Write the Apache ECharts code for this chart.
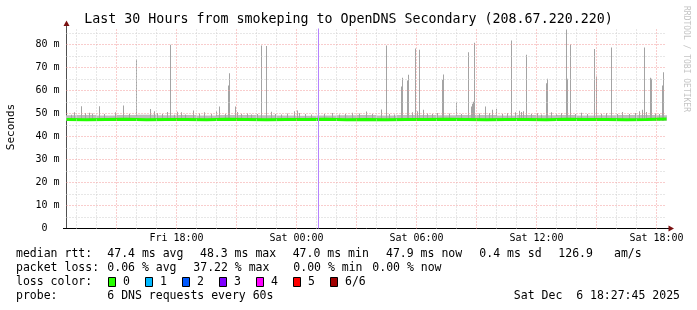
<!DOCTYPE html>
<html><head><meta charset="utf-8">
<script src="https://cdn.jsdelivr.net/npm/echarts@6/dist/echarts.min.js"></script>
<style>html,body{margin:0;padding:0;background:#fff}#c{width:697px;height:310px}</style>
</head><body><div id="c"></div>
<script>
// ---------------- data ----------------
const titleText = 'Last 30 Hours from smokeping to OpenDNS Secondary (208.67.220.220)';
const yAxisName = 'Seconds';
const watermark = 'RRDTOOL / TOBI OETIKER';
// x in hours since Fri 12:00
const xRange = [0.5, 30.5];
const yRange = [0, 86.96];
const xTickHours = [6, 12, 18, 24, 30];
const xTickLabels = ['Fri 18:00', 'Sat 00:00', 'Sat 06:00', 'Sat 12:00', 'Sat 18:00'];
const minorHoursX = [1,2,4,5,7,8,10,11,13,14,16,17,19,20,22,23,25,26,28,29];
const majorHoursX = [3,6,9,12,15,18,21,24,27,30];
const minorMsY = [5,15,25,35,45,55,65,75,85];
const majorMsY = [10,20,30,40,50,60,70,80];

const medianHours = [0.5,1.5,2.5,3.5,4.5,5.5,6.5,7.5,8.5,9.5,10.5,11.5,12.5,13.5,14.5,15.5,16.5,17.5,18.5,19.5,20.5,21.5,22.5,23.5,24.5,25.5,26.5,27.5,28.5,29.5,30.5];
const medianMs = [47.4,47.3,47.4,47.5,47.3,47.4,47.4,47.3,47.5,47.4,47.3,47.4,47.4,47.5,47.3,47.4,47.3,47.4,47.4,47.5,47.4,47.3,47.4,47.4,47.3,47.5,47.4,47.4,47.3,47.4,47.6];
const smokeTopMs = [49.2,49.4,49.1,49.3,49.5,49.2,49.3,49.1,49.4,49.3,49.2,49.1,49.0,49.1,49.2,49.3,49.1,49.4,49.3,49.2,49.4,49.3,49.1,49.3,49.2,49.3,49.1,49.2,49.3,49.4,49.2];
const smokeLowMs = 46.9;

const spikeHours = [0.73,0.9,1.24,1.45,1.65,1.8,2.15,2.4,2.94,3.37,3.65,3.98,4.7,4.9,5.05,5.3,5.55,5.72,5.9,6.04,6.25,6.45,6.85,7.15,7.4,7.75,7.99,8.17,8.45,8.62,8.67,8.94,9.05,9.25,9.55,9.75,10.05,10.27,10.52,10.74,10.95,11.25,11.55,11.9,12.05,12.15,12.45,12.75,13.4,13.8,14.15,14.45,14.82,15.15,15.49,15.82,16.27,16.48,16.65,16.9,17.23,17.28,17.57,17.62,17.8,17.97,18.05,18.17,18.35,18.55,18.8,19.05,19.32,19.37,19.65,19.99,20.02,20.25,20.62,20.74,20.79,20.84,20.88,21.15,21.45,21.65,21.82,22.02,22.3,22.55,22.77,22.95,23.15,23.25,23.37,23.51,23.75,24.05,24.25,24.49,24.54,24.75,25.0,25.25,25.48,25.53,25.72,25.95,26.25,26.55,26.91,26.99,27.25,27.5,27.77,28.05,28.32,28.65,28.95,29.15,29.32,29.42,29.52,29.7,29.77,29.95,30.15,30.32,30.37];
const spikeMs = [49.5,50.5,53.2,50.2,50.3,50.0,53.2,49.8,50.5,53.5,49.8,73.5,52.0,51.0,50.2,49.8,50.6,79.9,49.5,50.8,50.5,49.6,51.3,50.0,50.5,49.8,51.0,53.0,49.8,62.2,67.5,53.0,50.6,49.8,50.0,49.6,49.8,79.6,79.3,50.8,49.8,49.6,50.0,51.0,51.3,50.2,49.8,49.6,49.8,50.2,49.6,49.8,50.3,50.0,50.9,49.8,51.7,79.6,49.8,49.6,61.7,65.5,64.3,66.8,50.5,78.3,51.0,77.7,51.6,50.0,49.8,50.2,64.6,67.0,50.0,52.5,54.8,49.8,76.6,53.0,54.2,55.1,80.8,50.0,53.0,50.2,51.6,52.0,49.8,50.2,81.7,50.5,51.2,50.6,51.0,75.6,49.8,50.2,49.6,63.2,65.1,50.5,49.8,50.2,86.5,65.1,80.0,49.8,50.3,49.8,78.1,66.1,49.8,50.2,78.7,49.8,50.6,49.8,50.2,51.0,51.6,78.7,50.6,65.5,65.1,50.0,49.8,62.2,67.9];
const vruleHour = 13.1;

const rttLabel = 'median rtt:';
const rttStats = ['47.4 ms avg', '48.3 ms max', '47.0 ms min', '47.9 ms now', '0.4 ms sd', '126.9', 'am/s'];
const lossLabel = 'packet loss:';
const lossStats = ['0.06 % avg', '37.22 % max', '0.00 % min', '0.00 % now'];
const lossColorLabel = 'loss color:';
const lossLabels = ['0', '1', '2', '3', '4', '5', '6/6'];
const lossColors = ['#26ff00', '#00b8ff', '#0059ff', '#7e00ff', '#ff00ff', '#ff0000', '#a10000'];
const probeLabel = 'probe:';
const probeText = '6 DNS requests every 60s';
const dateText = 'Sat Dec  6 18:27:45 2025';

// ---------------- layout ----------------
const FONT = '"DejaVu Sans Mono", monospace';
const rttX = [107.3, 200, 292.7, 386, 479.3, 558.3, 614];
const lossX = [107.3, 193.3, 293.3, 372.3];
const boxX = [108, 145, 182, 219, 256, 293, 330];
const rowY = [254.5, 268.5, 282.5, 296.5];

const chart = echarts.init(document.getElementById('c'), null, {renderer: 'canvas', width: 697, height: 310});

function txt(text, x, y, size, extra) {
  return {
    type: 'text', x: x, y: y, silent: true,
    style: Object.assign({text: text, fill: '#000', font: size + 'px ' + FONT, textAlign: 'left', textVerticalAlign: 'middle'}, extra || {})
  };
}

const graphics = [];
graphics.push(txt(titleText, 348.5, 19.5, 13.3, {textAlign: 'center'}));
graphics.push(Object.assign(txt(yAxisName, 11, 127, 11, {textAlign: 'center'}), {rotation: Math.PI / 2}));
graphics.push(Object.assign(txt(watermark, 686, 59, 8, {textAlign: 'center', fill: '#c4c4c4'}), {rotation: -Math.PI / 2}));
// axis extensions and arrows
graphics.push({type: 'line', silent: true, shape: {x1: 66.5, y1: 28.5, x2: 66.5, y2: 25}, style: {stroke: '#505050', lineWidth: 1}});
graphics.push({type: 'line', silent: true, shape: {x1: 666.5, y1: 228.5, x2: 669, y2: 228.5}, style: {stroke: '#000', lineWidth: 1}});
graphics.push({type: 'line', silent: true, shape: {x1: 63, y1: 228.5, x2: 66.5, y2: 228.5}, style: {stroke: '#000', lineWidth: 1}});
graphics.push({type: 'polygon', silent: true, shape: {points: [[66.5, 20.5], [63.5, 26], [69.5, 26]]}, style: {fill: '#7a1010'}});
graphics.push({type: 'polygon', silent: true, shape: {points: [[674, 228.5], [668.5, 225.5], [668.5, 231.5]]}, style: {fill: '#7a1010'}});
// legend rows
graphics.push(txt(rttLabel, 16, rowY[0], 11.5));
rttStats.forEach((s, i) => graphics.push(txt(s, rttX[i], rowY[0], 11.5)));
graphics.push(txt(lossLabel, 16, rowY[1], 11.5));
lossStats.forEach((s, i) => graphics.push(txt(s, lossX[i], rowY[1], 11.5)));
graphics.push(txt(lossColorLabel, 16, rowY[2], 11.5));
lossLabels.forEach((s, i) => {
  graphics.push({type: 'rect', silent: true, shape: {x: boxX[i] + 0.5, y: 277.5, width: 7, height: 9}, style: {fill: lossColors[i], stroke: '#000', lineWidth: 1}});
  graphics.push(txt(s, boxX[i] + 15, rowY[2], 11.5));
});
graphics.push(txt(probeLabel, 16, rowY[3], 11.5));
graphics.push(txt(probeText, 107.3, rowY[3], 11.5));
graphics.push(txt(dateText, 680, rowY[3], 11.5, {textAlign: 'right'}));

function gridSeries(xs, ys, color, z) {
  return {
    type: 'line', data: [], z: z, silent: true,
    markLine: {
      silent: true, symbol: ['none', 'none'], animation: false,
      label: {show: false}, emphasis: {disabled: true},
      lineStyle: {color: color, type: [1, 2], width: 1},
      data: xs.map(h => ({xAxis: h})).concat(ys.map(v => ({yAxis: v})))
    }
  };
}

const option = {
  animation: false,
  backgroundColor: '#ffffff',
  grid: {left: 66.5, top: 28.5, right: 30.5, bottom: 81.5, containLabel: false},
  xAxis: {
    type: 'value', min: xRange[0], max: xRange[1],
    axisLine: {show: true, lineStyle: {color: '#000', width: 1}},
    axisTick: {show: false}, splitLine: {show: false},
    axisLabel: {
      customValues: xTickHours,
      formatter: v => { const i = xTickHours.indexOf(v); return i >= 0 ? xTickLabels[i] : ''; },
      fontFamily: FONT, fontSize: 10, color: '#000', margin: 5
    }
  },
  yAxis: {
    type: 'value', min: yRange[0], max: yRange[1], interval: 10,
    axisLine: {show: true, lineStyle: {color: '#505050', width: 1}},
    axisTick: {show: false}, splitLine: {show: false},
    axisLabel: {
      showMaxLabel: false,
      formatter: v => v === 0 ? '0  ' : v + ' m',
      fontFamily: FONT, fontSize: 10, color: '#000', margin: 7
    }
  },
  series: [
    {
      type: 'custom', z: 1, clip: true, silent: true,
      data: medianHours.map((h, i) => [h, smokeTopMs[i]]),
      renderItem: (params, api) => {
        const a = api.coord([api.value(0) - 0.5, smokeLowMs]);
        const b = api.coord([api.value(0) + 0.5, api.value(1)]);
        return {type: 'rect', shape: {x: a[0], y: b[1], width: b[0] - a[0], height: a[1] - b[1]}, style: {fill: '#bdbdbd'}};
      }
    },
    {
      type: 'custom', z: 1, clip: true, silent: true,
      data: spikeHours.map((h, i) => [h, spikeMs[i]]),
      renderItem: (params, api) => {
        const a = api.coord([api.value(0), smokeLowMs]);
        const b = api.coord([api.value(0), api.value(1)]);
        return {type: 'rect', shape: {x: Math.floor(a[0]), y: b[1], width: 1, height: a[1] - b[1]}, style: {fill: '#a4a4a4'}};
      }
    },
    gridSeries(minorHoursX, minorMsY, '#cfcfcf', 2),
    gridSeries(majorHoursX, majorMsY, '#f39a9a', 2),
    {
      type: 'line', z: 3, silent: true, showSymbol: false, symbol: 'none',
      data: medianHours.map((h, i) => [h, medianMs[i]]),
      lineStyle: {color: '#22ff00', width: 3}
    },
    {
      type: 'line', data: [], z: 4, silent: true,
      markLine: {
        silent: true, symbol: ['none', 'none'], animation: false,
        label: {show: false}, emphasis: {disabled: true},
        lineStyle: {color: '#b583ff', type: 'solid', width: 1},
        data: [{xAxis: vruleHour}]
      }
    }
  ],
  graphic: graphics
};
chart.setOption(option);
</script>
</body></html>
